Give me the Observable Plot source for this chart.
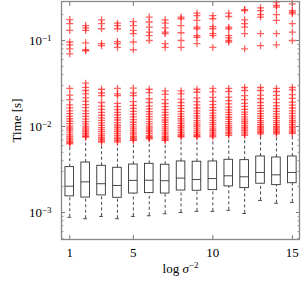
<!DOCTYPE html>
<html><head><meta charset="utf-8">
<script src="https://cdn.jsdelivr.net/npm/d3@7"></script>
<script src="https://cdn.jsdelivr.net/npm/@observablehq/plot@0.6"></script>
<style>body{margin:0;background:#fff}</style>
</head><body><div id="chart"></div>
<script>
const sigma = [1,2,3,4,5,6,7,8,9,10,11,12,13,14,15];
const whiskerLow = [0.00088,0.000845,0.00090,0.000845,0.00090,0.000916,0.000966,0.00100,0.00103,0.00103,0.00106,0.000974,0.00138,0.00128,0.00131];
const q1 = [0.00154,0.00149,0.00158,0.00148,0.00166,0.00168,0.00166,0.00180,0.00179,0.00182,0.00201,0.00192,0.00216,0.00208,0.00219];
const median = [0.00202,0.00227,0.00216,0.00206,0.00236,0.00237,0.00234,0.00251,0.00242,0.00248,0.00267,0.00260,0.00292,0.00274,0.00292];
const q3 = [0.00337,0.00381,0.00349,0.00331,0.00361,0.00368,0.00359,0.00392,0.00389,0.00392,0.00410,0.00406,0.00448,0.00436,0.00448];
const whiskerHigh = [0.0060,0.0071,0.0062,0.0062,0.0065,0.0069,0.0065,0.0071,0.0071,0.0071,0.0075,0.0075,0.0078,0.0078,0.0078];
const outliers = [
  [0.175,0.157,0.131,0.096,0.089,0.080,0.070, 0.0277,0.0232,0.0205,0.0178,0.0165,0.0152,0.0141,0.0131,0.0123,0.0115,0.0108,0.0101,0.0096,0.0091,0.0086,0.0081,0.0077,0.0073,0.0070,0.0067,0.0065,0.0063],
  [0.149,0.140,0.131,0.094,0.078,0.076, 0.0319,0.0285,0.0262,0.0240,0.0215,0.0196,0.0180,0.0166,0.0152,0.0141,0.0131,0.0122,0.0114,0.0107,0.0101,0.0096,0.0091,0.0087,0.0083,0.0080,0.0077,0.0075],
  [0.174,0.157,0.137,0.092,0.087, 0.0271,0.0245,0.0228,0.0190,0.0172,0.0158,0.0146,0.0135,0.0126,0.0118,0.0110,0.0103,0.0097,0.0092,0.0087,0.0082,0.0078,0.0074,0.0071,0.0068,0.0066],
  [0.159,0.149,0.137,0.097,0.092,0.083, 0.0277,0.0240,0.0228,0.0186,0.0170,0.0157,0.0146,0.0136,0.0127,0.0119,0.0111,0.0104,0.0098,0.0093,0.0088,0.0083,0.0079,0.0075,0.0072,0.0069,0.0066],
  [0.166,0.149,0.131,0.120,0.096,0.078, 0.0280,0.0245,0.0228,0.0195,0.0176,0.0162,0.0150,0.0139,0.0129,0.0120,0.0112,0.0105,0.0099,0.0094,0.0089,0.0084,0.0080,0.0076,0.0073,0.0070,0.0069],
  [0.187,0.164,0.143,0.125,0.114,0.100, 0.0271,0.0248,0.0210,0.0190,0.0172,0.0160,0.0149,0.0139,0.0130,0.0122,0.0114,0.0107,0.0101,0.0096,0.0091,0.0087,0.0083,0.0079,0.0076,0.0074,0.0072],
  [0.174,0.159,0.140,0.125,0.120,0.092,0.083, 0.0259,0.0236,0.0205,0.0185,0.0170,0.0157,0.0146,0.0136,0.0127,0.0119,0.0112,0.0105,0.0099,0.0094,0.0089,0.0084,0.0080,0.0076,0.0073,0.0070,0.0069],
  [0.187,0.179,0.149,0.123,0.100,0.083, 0.0259,0.0240,0.0208,0.0190,0.0175,0.0162,0.0150,0.0140,0.0131,0.0123,0.0116,0.0109,0.0103,0.0098,0.0093,0.0089,0.0085,0.0081,0.0078,0.0076],
  [0.208,0.195,0.171,0.143,0.137,0.114,0.109,0.092, 0.0271,0.0250,0.0215,0.0195,0.0178,0.0164,0.0152,0.0142,0.0133,0.0125,0.0117,0.0110,0.0104,0.0099,0.0094,0.0089,0.0085,0.0081,0.0078,0.0076],
  [0.195,0.179,0.145,0.137,0.120,0.114,0.083, 0.0277,0.0252,0.0218,0.0196,0.0180,0.0166,0.0154,0.0143,0.0134,0.0126,0.0118,0.0111,0.0105,0.0099,0.0094,0.0090,0.0086,0.0082,0.0079,0.0076],
  [0.208,0.190,0.143,0.137,0.114,0.107,0.100,0.096, 0.0277,0.0255,0.0220,0.0200,0.0183,0.0168,0.0156,0.0146,0.0137,0.0128,0.0121,0.0114,0.0108,0.0102,0.0097,0.0093,0.0089,0.0085,0.0082,0.0079],
  [0.229,0.223,0.174,0.157,0.143,0.120,0.080, 0.0284,0.0262,0.0228,0.0205,0.0186,0.0171,0.0158,0.0147,0.0138,0.0129,0.0122,0.0115,0.0109,0.0103,0.0098,0.0094,0.0090,0.0086,0.0082,0.0079],
  [0.240,0.223,0.200,0.187,0.120,0.087, 0.0284,0.0262,0.0232,0.0210,0.0190,0.0175,0.0162,0.0151,0.0141,0.0132,0.0124,0.0117,0.0111,0.0105,0.0100,0.0096,0.0092,0.0088,0.0085,0.0082],
  [0.279,0.255,0.244,0.200,0.171,0.120,0.089, 0.0277,0.0255,0.0230,0.0208,0.0189,0.0174,0.0161,0.0150,0.0140,0.0131,0.0124,0.0117,0.0111,0.0105,0.0100,0.0096,0.0092,0.0088,0.0085,0.0082],
  [0.267,0.223,0.213,0.204,0.157,0.125,0.100, 0.0284,0.0266,0.0235,0.0212,0.0192,0.0177,0.0164,0.0152,0.0142,0.0133,0.0125,0.0118,0.0112,0.0106,0.0101,0.0097,0.0093,0.0089,0.0086,0.0083]
];
const xTicks = [1,5,10,15];
const yTicks = [1e-3,1e-2,1e-1];
const xLabel = "log σ⁻²";
const yLabel = "Time [s]";

const yDomain = [4.85e-4, 0.284];
const minorTicks = [];
for (const k of [-4,-3,-2,-1]) for (let m = 2; m <= 9; m++) {
  const v = m * Math.pow(10, k);
  if (v > yDomain[0] && v < yDomain[1]) minorTicks.push(v);
}

const boxes = sigma.map((s, i) => ({s, lo: whiskerLow[i], q1: q1[i], med: median[i], q3: q3[i], hi: whiskerHigh[i]}));
const pts = sigma.flatMap((s, i) => outliers[i].map(v => ({s, v})));

const plus = {draw(ctx, size) { const r = Math.sqrt(size / Math.PI); ctx.moveTo(-r, 0); ctx.lineTo(r, 0); ctx.moveTo(0, -r); ctx.lineTo(0, r); }};
const hw = 0.27, cw = 0.12;
const blank = () => "";

const chart = Plot.plot({
  width: 304, height: 282,
  marginLeft: 61, marginRight: 5, marginTop: 1, marginBottom: 43,
  style: {fontFamily: "'Liberation Serif', serif", fontSize: "13px", background: "white", color: "black"},
  x: {domain: [0.48, 15.45]},
  y: {type: "log", domain: yDomain},
  marks: [
    Plot.ruleX(boxes, {x: "s", y1: "lo", y2: "q1", stroke: "#333", strokeWidth: 0.9, strokeDasharray: "3,2.5"}),
    Plot.ruleX(boxes, {x: "s", y1: "q3", y2: "hi", stroke: "#333", strokeWidth: 0.9, strokeDasharray: "3,2.5"}),
    Plot.ruleY(boxes, {y: "lo", x1: d => d.s - cw, x2: d => d.s + cw, stroke: "#333", strokeWidth: 0.9}),
    Plot.rect(boxes, {x1: d => d.s - hw, x2: d => d.s + hw, y1: "q1", y2: "q3", fill: "white", stroke: "#333", strokeWidth: 0.9}),
    Plot.ruleY(boxes, {y: "med", x1: d => d.s - hw, x2: d => d.s + hw, stroke: "#333", strokeWidth: 0.9}),
    Plot.dot(pts, {x: "s", y: "v", symbol: plus, r: 3.5, stroke: "red", strokeOpacity: 0.62, strokeWidth: 1.3, fill: "none"}),
    Plot.axisY({ticks: yTicks, tickSize: 0, tickPadding: 10, tickFormat: d => String(Math.round(Math.log10(d))), label: yLabel, labelAnchor: "center", labelArrow: "none", labelOffset: 50}),
    Plot.axisY({ticks: yTicks, tickSize: 4, dx: 4, tickFormat: blank, label: null, stroke: "#777"}),
    Plot.axisY({ticks: minorTicks, tickSize: 2.5, dx: 2.5, tickFormat: blank, label: null, stroke: "#999"}),
    Plot.axisY({anchor: "right", ticks: yTicks, tickSize: 4, dx: -4, tickFormat: blank, label: null, stroke: "#777"}),
    Plot.axisY({anchor: "right", ticks: minorTicks, tickSize: 2.5, dx: -2.5, tickFormat: blank, label: null, stroke: "#999"}),
    Plot.axisX({ticks: xTicks, tickSize: 0, tickPadding: 8, label: xLabel, labelAnchor: "center", labelArrow: "none", labelOffset: 33}),
    Plot.axisX({ticks: xTicks, tickSize: 4, dy: -4, tickFormat: blank, label: null, stroke: "#777"}),
    Plot.axisX({anchor: "top", ticks: xTicks, tickSize: 4, dy: 4, tickFormat: blank, label: null, stroke: "#777"}),
    Plot.frame({stroke: "#888", strokeWidth: 1.3})
  ]
});

d3.select(chart).selectAll('g[aria-label="y-axis tick label"] text').each(function() {
  const t = d3.select(this); const e = t.text();
  if (!e) return;
  t.text(null);
  t.append("tspan").text("10");
  t.append("tspan").attr("dy", "-0.45em").attr("font-size", "9px").text("−" + e.replace("-", ""));
});
d3.select(chart).selectAll('g[aria-label="x-axis label"] text').each(function() {
  const t = d3.select(this);
  t.text(null);
  t.append("tspan").text("log ");
  t.append("tspan").attr("font-style", "italic").text("σ");
  t.append("tspan").attr("dy", "-0.45em").attr("font-size", "9px").text("−2");
});
document.getElementById("chart").appendChild(chart);
</script>
</body></html>
